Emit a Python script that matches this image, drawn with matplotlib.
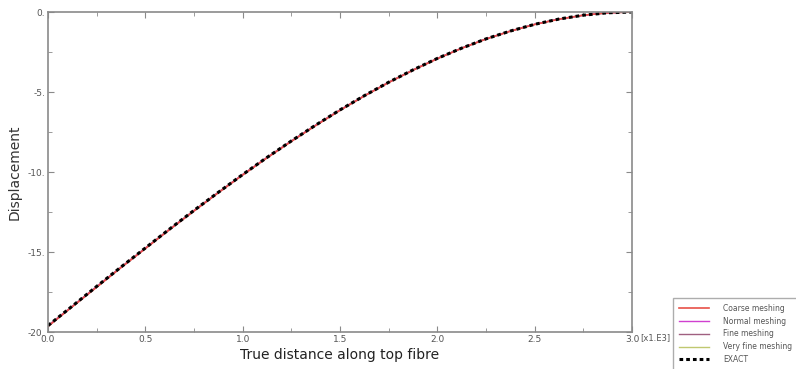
import matplotlib
matplotlib.use("Agg")
import matplotlib.pyplot as plt
from matplotlib.ticker import MultipleLocator, FixedFormatter, FixedLocator

# Data (x in units of 1e3)
x_vals = [0.0, 0.125, 0.25, 0.375, 0.5, 0.625, 0.75, 0.875, 1.0, 1.125, 1.25, 1.375,
          1.5, 1.625, 1.75, 1.875, 2.0, 2.125, 2.25, 2.375, 2.5, 2.625, 2.75, 2.875, 3.0]
exact = [-19.6, -18.38, -17.15, -15.94, -14.75, -13.56, -12.4, -11.27, -10.16, -9.09,
         -8.06, -7.07, -6.12, -5.23, -4.39, -3.62, -2.9, -2.26, -1.68, -1.19, -0.77,
         -0.44, -0.2, -0.05, 0.0]
coarse = [-19.65, -18.42, -17.2, -15.98, -14.79, -13.6, -12.44, -11.3, -10.19, -9.12,
          -8.09, -7.1, -6.15, -5.25, -4.41, -3.64, -2.92, -2.27, -1.69, -1.2, -0.78,
          -0.45, -0.2, -0.05, 0.0]
normal = [-19.62, -18.4, -17.17, -15.96, -14.77, -13.58, -12.42, -11.28, -10.17, -9.1,
          -8.07, -7.08, -6.13, -5.24, -4.4, -3.63, -2.91, -2.26, -1.68, -1.19, -0.77,
          -0.44, -0.2, -0.05, 0.0]
fine = [-19.61, -18.39, -17.16, -15.95, -14.76, -13.57, -12.41, -11.27, -10.16, -9.09,
        -8.06, -7.07, -6.12, -5.23, -4.39, -3.62, -2.9, -2.26, -1.68, -1.19, -0.77,
        -0.44, -0.2, -0.05, 0.0]
very_fine = [-19.6, -18.38, -17.15, -15.94, -14.75, -13.56, -12.4, -11.27, -10.16, -9.09,
             -8.06, -7.07, -6.12, -5.23, -4.39, -3.62, -2.9, -2.26, -1.68, -1.19, -0.77,
             -0.44, -0.2, -0.05, 0.0]

labels = ["Coarse meshing", "Normal meshing", "Fine meshing", "Very fine meshing", "EXACT"]
x_ticks = [0.0, 0.5, 1.0, 1.5, 2.0, 2.5, 3.0]
x_ticklabels = ["0.0", "0.5", "1.0", "1.5", "2.0", "2.5", "3.0"]
y_ticks = [-20, -15, -10, -5, 0]
y_ticklabels = ["-20.", "-15.", "-10.", "-5.", "0."]

W, H = 796, 369
fig = plt.figure(figsize=(W / 100, H / 100), dpi=100)
ax = fig.add_axes([48 / W, 1 - 332 / H, (632 - 48) / W, (332 - 12) / H])

spine_c = "#8a8a8a"
h1, = ax.plot(x_vals, very_fine, color="#c0c870", lw=1.0)
h2, = ax.plot(x_vals, fine, color="#a06080", lw=1.0)
h3, = ax.plot(x_vals, normal, color="#d040d0", lw=1.0)
h4, = ax.plot(x_vals, coarse, color="#e85048", lw=1.2)
h5, = ax.plot(x_vals, exact, color="black", lw=2.2, linestyle=(0, (1.2, 1.0)))

ax.set_xlim(0, 3.0)
ax.set_ylim(-20, 0)
ax.xaxis.set_major_locator(FixedLocator(x_ticks))
ax.xaxis.set_major_formatter(FixedFormatter(x_ticklabels))
ax.xaxis.set_minor_locator(MultipleLocator(0.25))
ax.yaxis.set_major_locator(FixedLocator(y_ticks))
ax.yaxis.set_major_formatter(FixedFormatter(y_ticklabels))
ax.yaxis.set_minor_locator(MultipleLocator(2.5))

for s in ax.spines.values():
    s.set_color(spine_c)
    s.set_linewidth(1.2)
ax.tick_params(which="both", direction="in", top=True, right=True, color=spine_c,
               labelsize=6.5, labelcolor="#555555", pad=2)
ax.tick_params(which="major", length=4)
ax.tick_params(which="minor", length=3)

ax.set_ylabel("Displacement", fontsize=10, color="#333333", labelpad=4)
ax.set_xlabel("True distance along top fibre", fontsize=10, color="#222222", labelpad=3)

leg = fig.legend([h4, h3, h2, h1, h5], labels, loc="upper left",
                 bbox_to_anchor=(673 / W, 1 - 298 / H), fontsize=5.5,
                 frameon=True, fancybox=False, edgecolor="#999999",
                 borderaxespad=0, handlelength=4.0, labelspacing=0.5,
                 borderpad=0.75, handletextpad=1.8)
leg.get_frame().set_linewidth(1.0)
leg.set_zorder(1)
for t in leg.get_texts():
    t.set_color("#555555")

fig.text(640 / W, 1 - 338 / H, "[x1.E3]", fontsize=6, color="#555555",
         ha="left", va="center", zorder=10)

fig.savefig("out.png", dpi=100)
